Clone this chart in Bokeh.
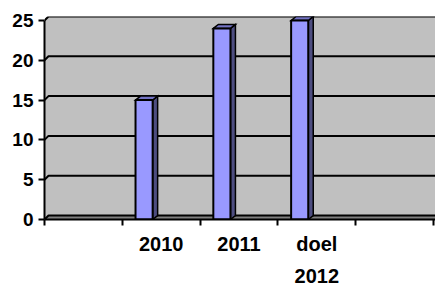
from bokeh.plotting import figure
from bokeh.models import Range1d, FixedTicker, LinearAxis
from bokeh.embed import file_html
from bokeh.resources import INLINE

# ---- data ----
categories = ["", "2010", "2011", "doel 2012", ""]
values = [None, 15, 24, 25, None]
y_ticks = [0, 5, 10, 15, 20, 25]

# ---- geometry (pixels -> data units) ----
PX_X = 77.8
PX_Y = 8.0
X_MAX = 391 / PX_X
Y_MAX = 25.5
wall_dx = 4 / PX_X
wall_dy = 4 / PX_Y
bar_dx = 5 / PX_X
bar_dy = 4 / PX_Y
bar_off = 0.17
bar_w = 0.22

WALL = "#C0C0C0"
FLOOR = "#808080"
FRONT = "#9999FF"
TOP = "#7373C4"
SIDE = "#4D4D80"
FONT = "Liberation Sans"

p = figure(width=435, height=285, x_range=Range1d(0, X_MAX), y_range=Range1d(0, Y_MAX),
           output_backend="svg", toolbar_location=None,
           min_border_left=44, min_border_right=0, min_border_top=16, min_border_bottom=65)
p.background_fill_color = "white"
p.border_fill_color = "white"
p.outline_line_color = None
p.grid.visible = False

top = y_ticks[-1]
# walls
p.patch([0, 0, wall_dx, X_MAX + 1, X_MAX + 1, 0], [0, top, top + wall_dy, top + wall_dy, 0, 0],
        fill_color=WALL, line_color=None)
# floor
p.patch([0, wall_dx, X_MAX + 1, X_MAX + 1], [0, wall_dy, wall_dy, 0],
        fill_color=FLOOR, line_color=None)
# gridlines (back wall + side wall slant)
xs, ys = [], []
for t in y_ticks:
    xs.append([0, wall_dx, X_MAX + 1])
    ys.append([t, t + wall_dy, t + wall_dy])
p.multi_line(xs, ys, line_color="black", line_width=2)

# bars
n = len(categories)
for i, v in enumerate(values):
    if v is None:
        continue
    x0 = i + bar_off
    x1 = x0 + bar_w
    p.patch([x1, x1 + bar_dx, x1 + bar_dx, x1], [0, bar_dy, v + bar_dy, v],
            fill_color=SIDE, line_color="black", line_width=1.5, line_join="miter")
    p.patch([x0, x0 + bar_dx, x1 + bar_dx, x1], [v, v + bar_dy, v + bar_dy, v],
            fill_color=TOP, line_color="black", line_width=1.5, line_join="miter")
    p.quad(left=[x0], right=[x1], bottom=[0], top=[v],
           fill_color=FRONT, line_color="black", line_width=2)

# y axis
yax = p.yaxis[0]
yax.ticker = FixedTicker(ticks=y_ticks)
yax.bounds = (y_ticks[0], y_ticks[-1])
yax.axis_line_width = 2
yax.axis_line_color = "black"
yax.major_tick_line_width = 2
yax.major_tick_out = 6
yax.major_tick_in = 0
yax.minor_tick_line_color = None
yax.major_label_standoff = 5
yax.major_label_text_font = FONT
yax.major_label_text_font_style = "bold"
yax.major_label_text_font_size = "19px"
yax.major_label_text_color = "black"

# x axis: ticks between categories, labels (first line) at centres
xax = p.xaxis[0]
centres = [i + 0.5 for i in range(n)]
xax.ticker = FixedTicker(ticks=centres, minor_ticks=list(range(n + 1)))
xax.axis_line_width = 2
xax.axis_line_color = "black"
xax.major_tick_out = 0
xax.major_tick_in = 0
xax.major_tick_line_color = None
xax.minor_tick_out = 6
xax.minor_tick_in = 0
xax.minor_tick_line_width = 2
xax.minor_tick_line_color = "black"
first_lines = [lab.split(" ")[0] if lab else "" for lab in categories]
second_lines = [" ".join(lab.split(" ")[1:]) for lab in categories]
xax.major_label_overrides = {c: lab for c, lab in zip(centres, first_lines)}
xax.major_label_standoff = 7
xax.major_label_text_font = FONT
xax.major_label_text_font_style = "bold"
xax.major_label_text_font_size = "20px"
xax.major_label_text_color = "black"
xax.major_label_text_line_height = 1.0

# second line of wrapped category labels
xax2 = LinearAxis(ticker=FixedTicker(ticks=centres))
xax2.axis_line_color = None
xax2.major_tick_line_color = None
xax2.minor_tick_line_color = None
xax2.major_label_overrides = {c: lab for c, lab in zip(centres, second_lines)}
xax2.major_label_standoff = 5
xax2.major_label_text_font = FONT
xax2.major_label_text_font_style = "bold"
xax2.major_label_text_font_size = "20px"
xax2.major_label_text_color = "black"
xax2.major_label_text_line_height = 1.0
p.add_layout(xax2, "below")

open("out.html", "w").write(file_html(p, INLINE))
